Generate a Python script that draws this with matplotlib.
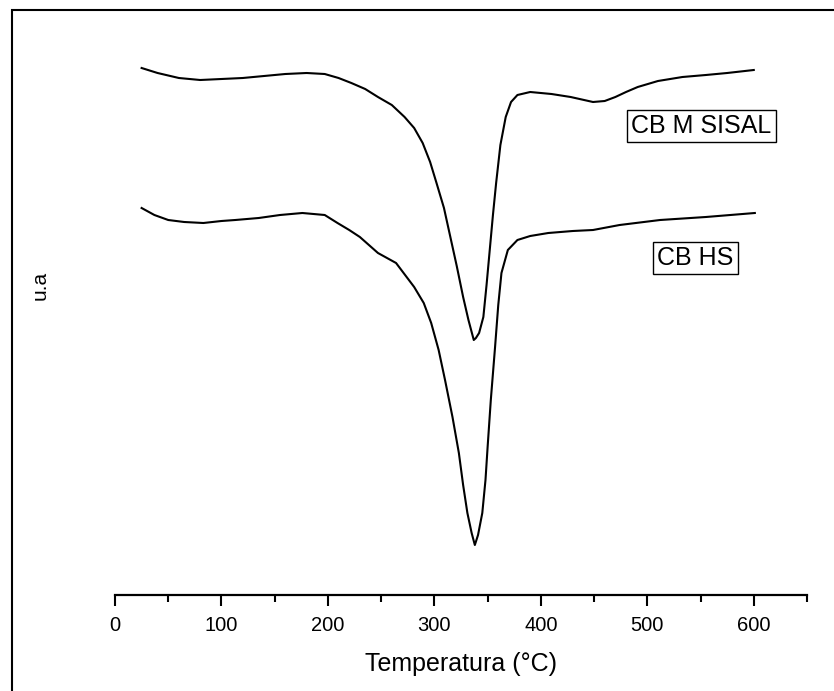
import matplotlib.pyplot as plt
from matplotlib.patches import Rectangle

plt.rcParams["font.family"] = ["Liberation Sans", "DejaVu Sans"]

# temperatures (°C) and signal (u.a)
temp_sisal = [25, 40, 60, 80, 100, 120, 140, 160, 180, 197, 210, 222, 235, 247,
              260, 272, 281, 289, 296, 302, 309, 315, 321, 327, 332, 335, 337,
              339, 342, 346, 349, 352, 355, 358, 362, 367, 372, 378, 390, 410,
              428, 449, 460, 470, 480, 491, 510, 533, 555, 575, 600]
sig_sisal = [5.30, 5.25, 5.20, 5.18, 5.19, 5.20, 5.22, 5.24, 5.25, 5.24, 5.20,
             5.15, 5.09, 5.01, 4.93, 4.81, 4.70, 4.55, 4.36, 4.15, 3.90, 3.61,
             3.32, 3.01, 2.78, 2.66, 2.58, 2.60, 2.65, 2.81, 3.13, 3.48, 3.83,
             4.15, 4.53, 4.81, 4.96, 5.03, 5.06, 5.04, 5.01, 4.96, 4.97, 5.01,
             5.06, 5.11, 5.17, 5.21, 5.23, 5.25, 5.28]

temp_hs = [25, 37, 50, 65, 83, 100, 113, 135, 155, 176, 197, 209, 220, 230, 247,
           264, 281, 290, 297, 304, 310, 317, 323, 327, 331, 335, 338, 341, 345,
           348, 350, 353, 357, 360, 363, 369, 378, 390, 407, 430, 449, 474, 512,
           555, 601]
sig_hs = [3.90, 3.83, 3.78, 3.76, 3.75, 3.77, 3.78, 3.80, 3.83, 3.85, 3.83, 3.75,
          3.68, 3.61, 3.45, 3.35, 3.11, 2.95, 2.75, 2.48, 2.18, 1.81, 1.45, 1.13,
          0.85, 0.65, 0.53, 0.63, 0.85, 1.18, 1.51, 1.98, 2.51, 2.93, 3.25, 3.48,
          3.58, 3.62, 3.65, 3.67, 3.68, 3.73, 3.78, 3.81, 3.85]

labels = ["CB M SISAL", "CB HS"]
label_pos = [(551, 4.72), (545, 3.40)]

fig = plt.figure(figsize=(8.34, 6.91), dpi=100)
ax = fig.add_axes([115 / 834, 1 - 595 / 691, 692 / 834, 565 / 691])

ax.plot(temp_sisal, sig_sisal, color="black", lw=1.5)
ax.plot(temp_hs, sig_hs, color="black", lw=1.5)

for txt, (x, y) in zip(labels, label_pos):
    ax.text(x, y, txt, fontsize=18, ha="center", va="center",
            bbox=dict(boxstyle="square,pad=0.17", fc="white", ec="black", lw=1))

ax.set_xlim(0, 650)
ax.set_ylim(0.03, 5.68)
for side in ["top", "right", "left"]:
    ax.spines[side].set_visible(False)
ax.spines["bottom"].set_linewidth(1.6)
ax.set_yticks([])
ax.set_xticks(range(0, 601, 100))
ax.set_xticks(range(50, 651, 100), minor=True)
ax.tick_params(axis="x", which="major", length=8, width=1.5, labelsize=14.5, pad=7)
ax.tick_params(axis="x", which="minor", length=5, width=1.5)
ax.set_xlabel("Temperatura (°C)", fontsize=18, labelpad=12)

fig.text(40 / 834, 1 - 285 / 691, "u.a", rotation=90, fontsize=15,
         ha="center", va="center")

# frame around the whole figure (right and bottom edges fall outside)
fig.patches.append(Rectangle((12 / 834, -0.02), 1.0, 1.02 - 10 / 691,
                             transform=fig.transFigure, fill=False,
                             ec="black", lw=1.5))

fig.savefig("out.png", dpi=100)
